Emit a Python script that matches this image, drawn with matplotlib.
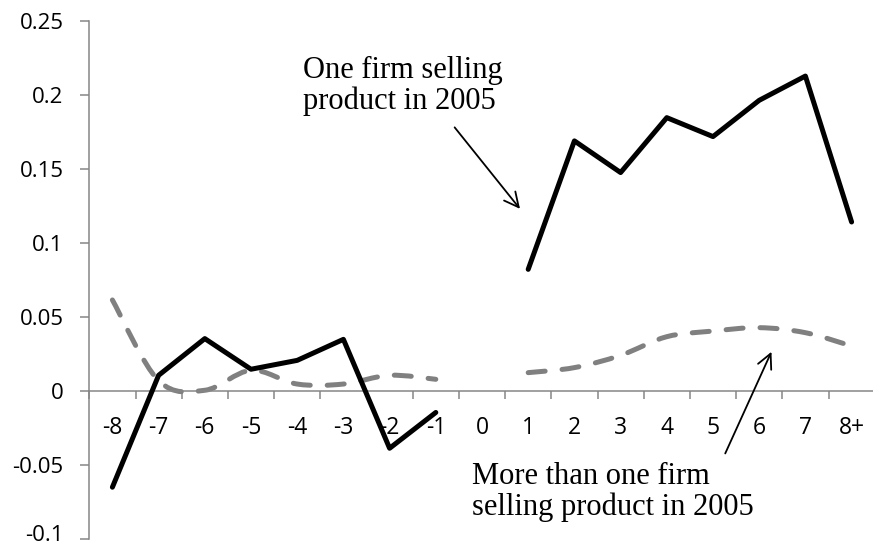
import numpy as np
import matplotlib.pyplot as plt
import matplotlib.transforms as mtransforms
from matplotlib.path import Path
from matplotlib.patches import PathPatch


categories = ['-8', '-7', '-6', '-5', '-4', '-3', '-2', '-1', '0',
              '1', '2', '3', '4', '5', '6', '7', '8+']

# One firm selling product in 2005 (None = no value at 0)
one_firm = [-0.065, 0.0106, 0.0354, 0.0147, 0.0207, 0.0349, -0.0387, -0.0145, None,
            0.0822, 0.169, 0.1476, 0.1847, 0.1719, 0.1964, 0.2128, 0.1142]

# More than one firm selling product in 2005
many_firms = [0.0615, 0.007, 0.0005, 0.014, 0.0047, 0.0047, 0.0106, 0.0079, None,
              0.0124, 0.0158, 0.0241, 0.0367, 0.0405, 0.0428, 0.0394, 0.0304]

y_ticks = [-0.1, -0.05, 0, 0.05, 0.1, 0.15, 0.2, 0.25]
y_labels = ['-0.1', '-0.05', '0', '0.05', '0.1', '0.15', '0.2', '0.25']

AXIS_GREY = '#868686'
TICK_FONT = 'Open Sans'
NOTE_FONT = 'Liberation Serif'


def runs(values):
    """Split a series into runs of consecutive non-missing points."""
    out, cur = [], []
    for i, v in enumerate(values):
        if v is None:
            if cur:
                out.append(cur)
            cur = []
        else:
            cur.append((i, v))
    if cur:
        out.append(cur)
    return out


def smooth_path(pts):
    """Excel-like smoothed line: cubic Bezier through the points."""
    p = np.asarray(pts, dtype=float)
    verts, codes = [p[0]], [Path.MOVETO]
    n = len(p)
    for i in range(n - 1):
        p0 = p[i - 1] if i > 0 else p[i]
        p3 = p[i + 2] if i + 2 < n else p[i + 1]
        c1 = p[i] + (p[i + 1] - p0) / 6
        c2 = p[i + 1] - (p3 - p[i]) / 6
        verts += [c1, c2, p[i + 1]]
        codes += [Path.CURVE4] * 3
    return Path(verts, codes)


fig = plt.figure(figsize=(8.73, 5.5), dpi=100)
ax = fig.add_axes([89.3 / 873, 1 - 539 / 550, 785.4 / 873, 518 / 550])

x = np.arange(len(categories))

# solid black series
for run in runs(one_firm):
    xs, ys = zip(*run)
    ax.plot(xs, ys, color='black', lw=3.6, solid_capstyle='round',
            solid_joinstyle='round', zorder=3)

# smoothed dashed grey series
for run in runs(many_firms):
    patch = PathPatch(smooth_path(run), facecolor='none', edgecolor='#808080',
                      lw=3.6, linestyle=(0, (3.4, 3.4)), capstyle='round', zorder=2)
    ax.add_patch(patch)

ax.set_xlim(-0.5, len(categories) - 0.5)
ax.set_ylim(-0.1, 0.25)

# spines: left axis and the zero line only
for side in ['top', 'right']:
    ax.spines[side].set_visible(False)
ax.spines['left'].set_color(AXIS_GREY)
ax.spines['left'].set_linewidth(1.1)
ax.spines['bottom'].set_position(('data', 0))
ax.spines['bottom'].set_color(AXIS_GREY)
ax.spines['bottom'].set_linewidth(1.1)

ax.set_yticks(y_ticks)
ax.set_yticklabels(y_labels, fontsize=16, fontfamily=TICK_FONT)
ax.tick_params(axis='y', direction='out', length=6.5, width=1.1, color=AXIS_GREY, pad=12)

# keep the lowest label inside the picture
low = ax.get_yticklabels()[0]
low.set_transform(low.get_transform() + mtransforms.ScaledTranslation(0, 4 / 72, fig.dpi_scale_trans))

ax.set_xticks(x)
ax.set_xticklabels(categories, fontsize=16.5, fontfamily=TICK_FONT)
ax.set_xticks(np.arange(-0.5, len(categories), 1), minor=True)
ax.tick_params(axis='x', which='major', length=0, pad=18)
ax.tick_params(axis='x', which='minor', direction='out', length=6, width=1.1, color=AXIS_GREY)

# annotations
ax.text(4.12, 0.206, 'One firm selling\nproduct in 2005', fontsize=22,
        fontfamily=NOTE_FONT, ha='left', va='center', linespacing=1.05)
ax.annotate('', xy=(8.86, 0.1216), xytext=(7.37, 0.1796),
            arrowprops=dict(arrowstyle='->', color='black', lw=1.3, mutation_scale=26))

ax.text(7.79, -0.0681, 'More than one firm\nselling product in 2005', fontsize=22,
        fontfamily=NOTE_FONT, ha='left', va='center', linespacing=1.05)
ax.annotate('', xy=(14.29, 0.0282), xytext=(13.24, -0.0439),
            arrowprops=dict(arrowstyle='->', color='black', lw=1.3, mutation_scale=26))

fig.savefig('out.png', dpi=100)
